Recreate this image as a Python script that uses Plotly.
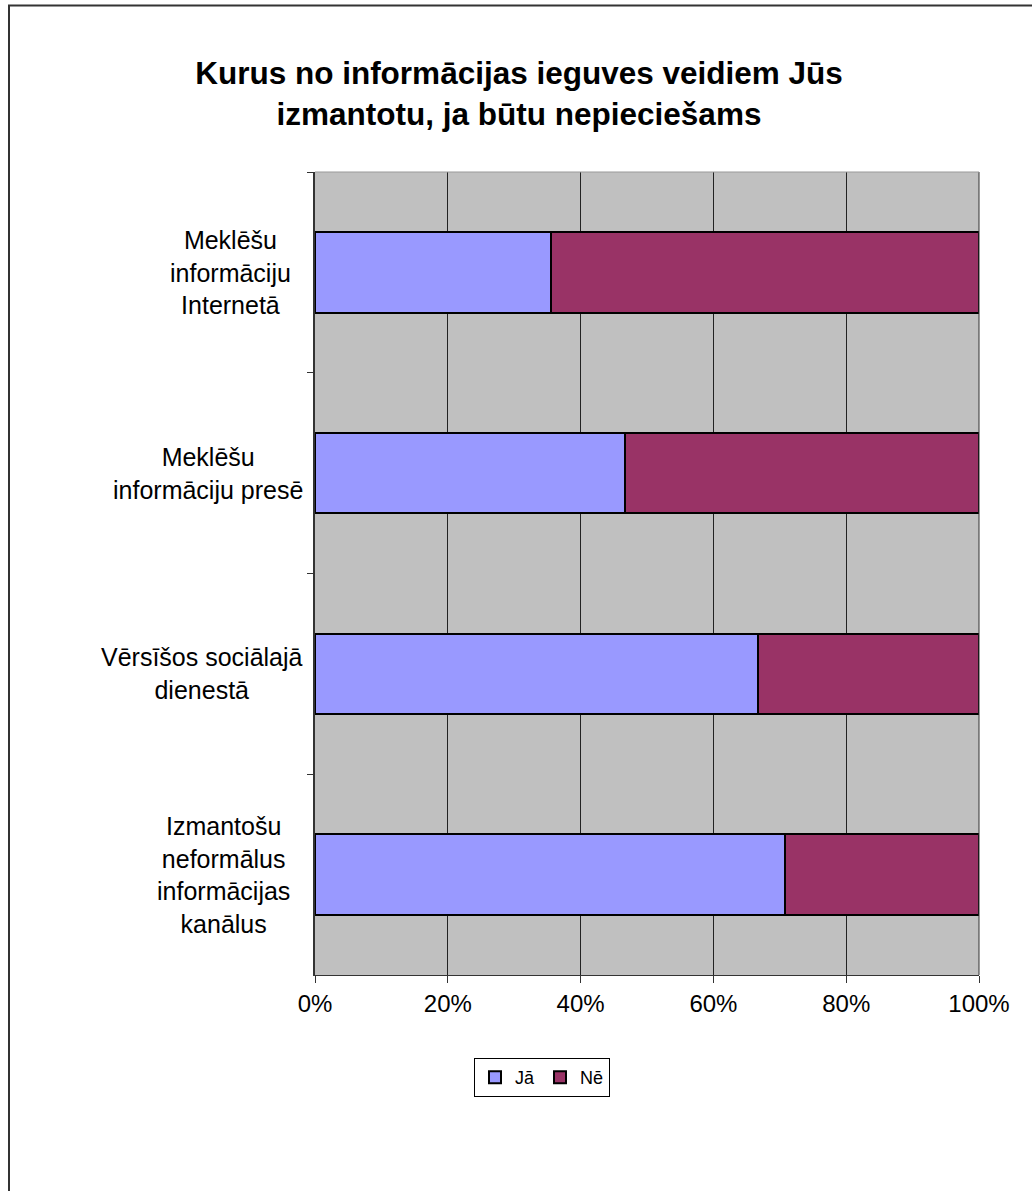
import plotly.graph_objects as go

# Survey answers: share of respondents who would / would not use each channel
categories = [
    "Meklēšu<br>informāciju<br>Internetā",
    "Meklēšu<br>informāciju presē",
    "Vērsīšos sociālajā<br>dienestā",
    "Izmantošu<br>neformālus<br>informācijas<br>kanālus",
]
ja_values = [0.355, 0.467, 0.667, 0.708]
ne_values = [0.645, 0.533, 0.333, 0.292]
series_names = ["Jā", "Nē"]
x_ticks = [0, 0.2, 0.4, 0.6, 0.8, 1.0]
x_tick_labels = ["0%", "20%", "40%", "60%", "80%", "100%"]

W, H = 1032, 1191
# plot area in pixels
PL, PR, PT, PB = 315, 979, 172, 975
pw, ph = PR - PL, PB - PT

# right edge (px) of each wrapped category label block
label_right = [293, 305, 305, 292]


def px_x(x):
    return (x - PL) / pw


def px_y(y):
    return (PB - y) / ph


FONT = "Liberation Sans, Arial, sans-serif"

fig = go.Figure()
for name, vals, color in [
    (series_names[0], ja_values, "#9999FF"),
    (series_names[1], ne_values, "#993366"),
]:
    fig.add_trace(go.Bar(
        name=name,
        y=categories,
        x=vals,
        orientation="h",
        marker=dict(color=color, line=dict(color="black", width=2)),
        hoverinfo="skip",
    ))

# category labels, centred lines, placed left of the axis
for cat, right in zip(categories, label_right):
    fig.add_annotation(
        x=px_x(right), xref="paper", xanchor="right",
        y=cat, yref="y", yanchor="middle",
        text=cat, showarrow=False, align="center",
        font=dict(family=FONT, size=25, color="black"),
    )

shapes = [
    # outer chart frame
    dict(type="rect", xref="paper", yref="paper",
         x0=px_x(9), x1=px_x(W + 20), y0=px_y(H + 20), y1=px_y(5.5),
         line=dict(color="#333333", width=2), layer="below"),
    # right edge of the plot area
    dict(type="line", xref="paper", yref="paper",
         x0=1, x1=1, y0=0, y1=1, line=dict(color="#333333", width=1)),
    # top edge of the plot area
    dict(type="line", xref="paper", yref="paper",
         x0=0, x1=1, y0=1, y1=1, line=dict(color="#999999", width=1)),
]

fig.update_layout(
    width=W, height=H,
    margin=dict(l=PL, r=W - PR, t=PT, b=H - PB, pad=0),
    paper_bgcolor="white",
    plot_bgcolor="#C0C0C0",
    barmode="stack",
    bargap=0.6,
    title=dict(
        text="<b>Kurus no informācijas ieguves veidiem Jūs<br>izmantotu, ja būtu nepieciešams</b>",
        x=519 / W, xref="container", xanchor="center",
        y=1 - 84 / H, yref="container", yanchor="top",
        font=dict(family=FONT, size=31.5, color="black"),
    ),
    font=dict(family=FONT, color="black"),
    xaxis=dict(
        range=[0, 1],
        tickvals=x_ticks, ticktext=x_tick_labels,
        ticks="outside", ticklen=7, tickcolor="#333333", tickwidth=1,
        showgrid=True, gridcolor="#222222", gridwidth=1,
        showline=True, linecolor="#333333", linewidth=1,
        zeroline=False,
        tickfont=dict(family=FONT, size=24, color="black"),
        fixedrange=True,
    ),
    yaxis=dict(
        type="category",
        categoryorder="array", categoryarray=categories,
        autorange="reversed",
        tickson="boundaries",
        ticks="outside", ticklen=6, tickcolor="#333333", tickwidth=1,
        showticklabels=False,
        showgrid=False,
        showline=True, linecolor="#333333", linewidth=2,
        fixedrange=True,
    ),
    legend=dict(
        orientation="h",
        x=px_x(542), xanchor="center",
        y=px_y(1058), yanchor="top",
        bordercolor="black", borderwidth=1,
        font=dict(family=FONT, size=18, color="black"),
        itemwidth=30, traceorder="normal",
    ),
    shapes=shapes,
)

fig.write_html("out.html")
